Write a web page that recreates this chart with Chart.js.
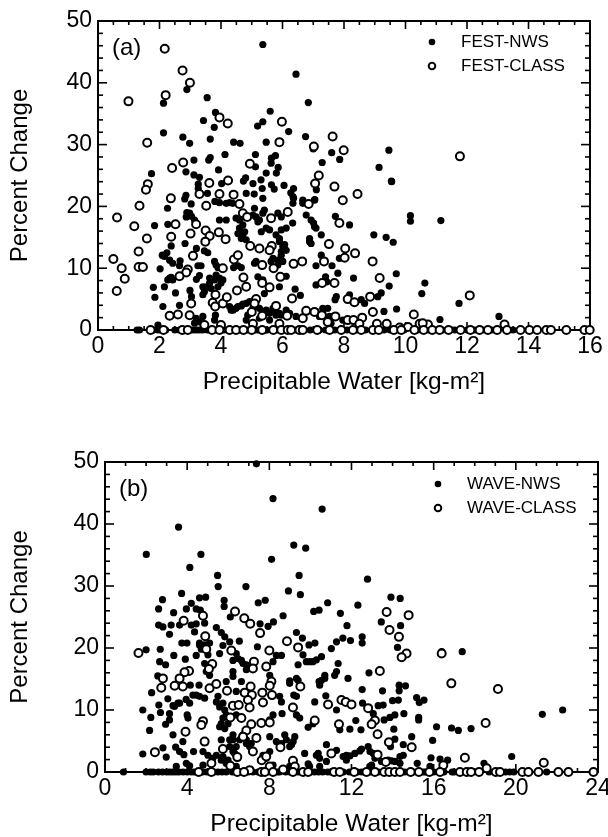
<!DOCTYPE html>
<html>
<head>
<meta charset="utf-8">
<title>Percent Change vs Precipitable Water</title>
<script src="https://cdn.jsdelivr.net/npm/chart.js@4/dist/chart.umd.min.js"></script>
<style>
    html, body { margin: 0; padding: 0; background: #fff; overflow: hidden; width: 608px; height: 837px; }
    canvas { position: absolute; left: 0; }
</style>
</head>
<body>
<canvas id="panelA" width="608" height="400" style="top:0"></canvas>
<canvas id="panelB" width="630" height="424" style="top:415px"></canvas>
<script>
//Values, [precipitable water, percent change].
const festNws = [[5.36,46.2],[6.44,41.4],[6.84,36.8],[3.55,37.6],[2.89,38.9],[2.13,36.7],[5.6,35.4],[3.82,35.2],[3.43,33.9],[5.36,33.7],[5.19,33],[3.78,32.8],[6.2,32.1],[2.13,31.9],[2.76,31.2],[2.98,30.2],[3.65,30.9],[4.41,30.4],[4.62,30.2],[5.47,30.4],[6.75,31.3],[7,29.3],[7.6,28.7],[7.86,27.6],[7.29,27.1],[4.13,28.4],[5.12,28.4],[5.77,28.2],[5.64,27.8],[5.63,27],[3.65,27.9],[3.6,27.5],[3.12,27.5],[5.12,26.4],[5.86,26.3],[3.92,25.9],[1.74,25.3],[2.86,25.6],[3.12,25.1],[3.3,24.7],[5.47,25.4],[5.8,25.4],[4.8,24.6],[4.73,24.1],[5.3,24.3],[5.04,23.7],[4.02,23.7],[3.26,23.6],[5.64,23.5],[6.05,23.4],[6.36,22.9],[5.73,22.8],[5.34,22.9],[6.27,22.2],[7.1,22.7],[4.82,22.1],[5.08,22],[3.56,22.1],[2.86,21.8],[3.26,22.9],[5.36,21.3],[6.36,21.3],[6.66,21],[7.05,21.1],[2.82,21.2],
    [9.46,29.1],[9.14,26.3],[9.54,24.1],
    [2.26,19.7],[3.03,20.4],[2.89,19],[3.04,18.4],[3.14,17.8],[1.84,16.9],[2.27,17.1],[2.83,14],[2.38,13.6],[2.24,12.5],[2.09,12.1],[2.33,11.3],[2.67,11.2],[2.65,10.4],[2.02,9.9],[2.38,8.5],[2.27,8.1],[2.16,7],[1.8,6.9],[1.85,5.3],[2.52,6],[2.11,3.8],[2.65,4],[2.99,6.4],[3.04,5.4],[3.41,5.7],[3.46,6.2],[3.2,8.2],[3.3,8.8],[3.25,10.4],[3.35,10.4],[3.2,13.2],[3.46,12.8],[3.57,12.5],[3.79,11.1],[3.84,10.5],[3.9,10.1],[4.41,10.1],[4.55,10.4],[4.66,10.1],[3.63,8.4],[3.95,8.4],[3.52,7],[3.68,6.7],[3.9,7],[4.06,8.1],[3.8,20.8],[4.17,20.5],[4.38,20.5],[3.95,17.8],[4.17,17.8],[4.49,18.1],[4.71,18.3],[4.71,17],[4.77,15.9],[4.66,14.8],[4.82,14.6],[5.09,19.7],[5.25,17.8],[5.14,18.3],[5.41,19.4],[5.85,18.9],[5.96,18.3],[6.33,17.3],[5.31,15.9],[5.47,16.5],[5.58,16.2],[5.79,15.4],[5.96,16.2],[6.12,16.5],[5.9,14.3],[6.07,13.8],[6.12,12.9],[5.96,12.1],[5.69,11.6],[6.01,11.1],[5.85,10.5],[5.63,11.1],[5.14,11.1],[5.09,10.8],[5.2,8.6],[5.36,8.1],[5.9,7],[6.12,8.7],[5.41,5.9],[6.41,6.6],[6.58,5.6],[7.09,7.3],[7.4,8.6],[7.44,7.8],[7.09,10.4],[7.26,12.1],[7.8,9.2],[7.61,10.4],[7.85,11.6],[6.88,14.3],[6.93,14],[7.26,15.4],[7.01,17.3],[7.09,16.5],[6.77,18.6],[6.66,20.5],[7.04,21],[6.34,20.5],[6.34,21.6],[7.72,18.4],[7.75,5.4],[7.71,4.9],[7.47,3.5],[7.31,2.7],[7.53,2.2],[6.12,3.2],[5.69,3.5],[5.9,2.7],[5.47,3.2],[5.25,3.5],[4.93,4.6],[4.71,4.2],[4.55,3.8],[4.39,3.2],[4.28,3.8],[4.87,2.4],[3.41,2.2],[3.82,2.4],[3.14,1.1],[1.95,0.8],
    [9.55,24],[10.16,18.5],[10.16,17.6],[11.15,17.7],[8.97,15.4],[9.37,15],[9.6,14.2],[8.31,8.4],[9.7,9.1],[9.47,7.1],[9.21,6],[9.1,5.4],[10.63,7.6],[10.53,5.9],[11.74,4.3],[8.56,4.9],[8.67,4.3],[8.18,5.7],[8.18,17],[9.3,3],[9.71,3.4],[11.12,1.7],[13.04,2.2],
    [3.95,20.6],[4.28,20.6],[4.6,17.8],[4.6,16.5],[4.71,15.4],[4.55,15.6],[5.04,18.6],[5.2,17.5],[5.36,18.9],[5.9,14.8],[6.01,13.5],[5.96,12.7],[5.85,11.3],[2.16,11.9],[2.43,10.8],[2.33,8.4],[2.43,8.1],[3.41,7],[3.63,7.6],[3.79,8.1],[4,7.6],[3.84,8.9],[4.33,3.2],[4.49,3.5],[4.66,3.9],[4.82,4.3],[5.04,3.5],[5.36,3],[5.58,2.7],[5.74,3],[5.96,2.4],[6.23,2.7],[6.44,2.2],[7.09,3],[7.31,3.5],[7.2,2.2],[2.98,18.9],[2.87,18.3],[6.93,17.8],[7.04,16.7],[6.88,14.8],[3.19,1.9],[3.3,1.3],[3.79,1.6],[4.82,1.6],[5.25,1.9],[5.58,1.6],[5.79,2.4],[7.58,1.1],[7.96,1.6]];
const festNwsZero = [1.27,1.35,1.8,1.95,2.05,2.2,2.5,2.65,2.8,3,3.1,3.2,3.3,3.4,3.55,3.85,4.1,4.6,4.85,5.1,5.2,5.45,5.5,5.8,6.05,6.45,6.9,7.2,7.4,7.7,8.1,8.4,8.7,9,9.3,9.5,9.95,10.4,10.75,11.2,11.6,12,12.25,12.5,12.8,13.5];
const festClass = [[2.17,45.5],[2.75,42],[2.99,40],[2.2,38],[0.99,37],[3.95,34.4],[4.22,33.4],[5.98,33.7],[1.6,30.3],[5.9,30.4],[7.63,31.3],[7.02,29.7],[7.99,29.1],[2.77,27.1],[2.41,26.2],[4.94,26.9],[7.18,25],[3.62,23.8],[4.23,24.2],[7.06,23.7],[7.69,23.2],[1.62,23.6],[1.56,22.7],[2.37,21.3],[3.3,22],[3.95,22],[4.41,21.9],[7.96,21],[11.77,28.1],[8.44,22],
    [1.35,20.1],[0.62,18.2],[1.18,16.8],[1.59,14.8],[2.52,17.1],[2.38,15.1],[1.32,12.7],[0.5,11.5],[0.77,10],[1.32,10.2],[1.46,10.2],[0.87,8.3],[0.61,6.3],[3.09,12],[2.92,9.8],[2.87,9.3],[2.65,8.7],[2.98,2.4],[2.6,2.5],[2.33,2.3],[3.03,4.3],[3.19,17.1],[3.01,15.6],[3.5,16.1],[3.63,15.2],[3.49,14.3],[3.52,20.1],[4.6,20.4],[4.71,18.9],[3.93,15.8],[4.15,14.7],[4.06,10],[4.42,11.4],[4.55,12.1],[4.73,8.5],[4.82,7],[4.52,6.4],[3.82,5.7],[3.73,4.4],[3.81,3.8],[4.06,4.3],[4.19,5.3],[4.95,13.6],[5.25,13.2],[5.34,10.5],[5.65,13.6],[5.58,12.9],[5.71,10],[5.63,18.1],[4.85,18.3],[6.17,19.1],[6.85,20.4],[5.14,5],[5.09,4.3],[5,2.9],[5.34,2.3],[5.93,8.6],[5.34,7.6],[5.58,6.9],[6.36,10.7],[6.64,11.1],[6.31,5.1],[5.79,3.9],[6.15,2.3],[6.66,1.9],[6.77,3.1],[7.04,2.9],[7.28,2.4],[7.85,17.3],[7.51,13.9],[8.04,13.2],[8.02,11.7],[7.35,11.1],[7.29,7.6],[7.69,7.6],[8.12,5],[8.12,1.6],[7.72,2.2],[7.47,1.3],[5.04,1],[5.9,1],[3.46,0.8],[4,0.8],
    [8.36,12.4],[8.93,11.1],[9.16,8.4],[8.85,5.4],[8.34,4.5],[12.09,5.6],[8.94,2.9],[10.27,2.5],[8.59,2],[8.31,1.6],[9.39,1],[9.07,1],[8.5,1],[10.46,1],[10.73,0.9],[13.22,0.9],[10.08,0.5],[9.81,0.4],[10.56,1.1]];
const festClassZero = [1.71,2.13,2.74,2.92,3.71,3.95,4.28,4.49,4.73,5,5.34,5.7,5.96,6.17,6.28,6.55,6.66,7.13,7.53,7.91,8.29,8.56,8.94,9.13,9.62,9.86,10.29,10.59,10.87,11.11,11.4,11.79,12.11,12.41,12.68,12.98,13.3,13.74,14.03,14.28,14.58,14.73,15.23,15.82,15.99];

const waveNws = [[7.37,49.7],[8.18,44.1],[10.57,42.4],[3.58,39.5],[2.01,35.1],[4.67,35.1],[9.19,36.6],[9.77,36.1],[8.11,34.3],[4.13,33],[5.48,31.7],[9.45,31.7],[5.51,29.9],[6.86,29.9],[8.93,29.2],[3.73,28.8],[9.51,28.6],[2.8,27.8],[4.6,28.1],[4.9,28.2],[5.8,27.7],[5.8,26.7],[7.8,27.7],[7.46,27.3],[10.84,27.3],[4.2,27.2],[3.96,26.3],[2.61,26.3],[4.44,26.3],[4.64,26.1],[3.34,25.7],[10.16,25.9],[10.42,26.1],[11.46,25.6],[8.67,25.2],[6.1,25],[11.78,23.6],[2.61,23.7],[2.82,23.4],[3.22,23.7],[3.63,23.7],[4.2,23.7],[4.44,23.9],[4.85,24],[7.55,23.9],[8.2,24.2],[7.94,23.5],[3.14,22.2],[4.36,22.6],[5.42,23.3],[5.66,22.5],[5.83,21.8],[6.07,21],[6.54,21.1],[9.32,22.5],[9.61,21.6],[3.74,20.8],[3.99,20.8],[4.6,20.8],[5.09,20.8],[5.74,20.4],[7.42,20.2],[9.93,20.5],[10.22,20.8],[11.02,19.9],[11.27,21],[11.58,21.6],[2,19.7],[2.69,19.8],[4.69,19.8],
    [12.78,31.1],[13.92,28.2],[14.37,28],[12.31,26.9],[13.45,24.2],[14.39,23.6],[12.52,21.8],[12.52,20.8],[11.95,21.2],[14.24,20.1],[16.39,19.4],[17.39,19.4],
    [3.35,18.8],[3.91,18.2],[4.44,18.8],[5.58,19.1],[6.47,18.3],[6.72,17.5],[6.88,16.5],[8.34,18.8],[8.59,18.8],[8.18,17.8],[9.4,17.3],[9.64,18.9],[9.8,17.8],[10.12,17.8],[10.54,18.6],[11.35,17.5],[11.27,16.2],[11.18,15.6],[11.83,15.1],[10.7,15.6],[10.54,14.8],[10.42,14.6],[9.4,14.8],[8.99,14.7],[2.66,17.8],[2.95,17.3],[2.57,15.5],[4.15,14],[4.58,14],[2.27,12.8],[3.06,11.8],[2.62,10.8],[3.31,10.7],[3.55,11.1],[3.95,11.7],[4.12,11.1],[4.44,12.4],[4.85,11.9],[1.84,10],[2.23,8.8],[2.7,9.6],[3.14,9.4],[4,9.2],[4.04,8.7],[3.14,8.4],[2.95,7.7],[2.17,6.7],[3.31,6],[3.79,4.9],[1.84,2.9],[2.82,3.9],[2.98,2.4],[3.44,4],[3.63,3.3],[3.84,2.8],[4.31,3.3],[3.96,1.4],[4.77,3.3],[5.01,2.7],[5.42,11.3],[5.58,10.5],[5.83,10],[5.74,8.7],[5.58,7.3],[5.83,7],[6.23,16.2],[6.23,15.4],[5.9,14.6],[6.64,14.6],[6.39,13],[8.02,15.6],[8.5,12.2],[8.59,11.3],[9.32,12.2],[9.19,12.4],[10.21,11.3],[10.75,12.3],[11.27,10],[9.32,9.2],[9.48,8.7],[8.62,9.4],[8.18,9.2],[8.02,8.4],[9.89,7.2],[10.13,7.8],[11.43,6.8],[6.23,6],[6.72,6],[6.07,5.2],[6.07,4.1],[6.31,3],[6.88,4.6],[7.04,4.1],[8.02,5.7],[8.34,4.9],[8.75,6],[9.24,5.7],[9.08,4.4],[8.02,3.3],[9.72,3],[10.78,4.4],[10.38,3],[10.45,2.2],[9.89,1.3],[11.75,1.9],[5.66,1.9],[5.99,1.9],[7.85,2.2],[5.66,5.2],
    [12.85,16],[14.32,14],[14.63,13.9],[14.32,13.1],[12.52,13.3],[13.51,13.1],[12.54,11.1],[13.3,10.7],[13.54,10.8],[14,11.5],[14.28,11.6],[15.17,12],[15.53,11.6],[15.3,11.2],[13.06,9.4],[14.55,9.4],[12.21,8.3],[14.11,9.2],[13.87,8.8],[13.59,8.4],[15.27,8.8],[15.27,8.4],[21.29,9.3],[22.28,10],[16.14,7.3],[16.87,7.1],[17.2,6.7],[17.82,7],[12.46,6.8],[14.06,6.9],[11.92,6.9],[14.93,5.7],[14.11,5.3],[15.95,5.1],[14.52,4.4],[13.9,4.1],[12.81,4.1],[12.49,3.7],[12.16,3],[11.92,2.6],[13.06,3],[14.52,2.7],[14.36,2.5],[15.87,2.3],[16.31,2.1],[16.68,1.9],[19.8,2.5],[18.45,1.4],[15.2,1.4],[12.98,1.1],[13.95,1.8],
    [4.6,20.5],[4.85,20.5],[5.01,18.9],[4.85,17.5],[4.93,16.2],[5.09,15.6],[6.23,18],[6.39,19.1],[6.64,18],[6.88,17.3],[9.97,17.8],[10.29,18.1],[5.5,12.2],[5.74,11.1],[5.9,9.2],[5.66,7.8],[5.99,7.8],[6.39,9.2],[6.23,5.2],[6.55,5.2],[6.88,5.2],[7.12,4.6],[6.39,4.1],[6.23,3.3],[8.99,14.3],[9.32,15.1],[10.7,15.1],[10.45,14],[8.59,4.6],[8.83,5.2],[8.99,4.1],[9.16,4.9],[5.42,2.7],[5.25,2.2],[5.74,2.5],[5.9,1.4],[7.69,2.7],[10.29,2.7],[10.78,1.7],[9.96,0.9],[10.45,0.9],[8.99,0.9],[8.18,1.1],[6.39,0.9],[4.12,1],[3.47,0.9],[4.77,1.1],[4.28,12.4],[4.6,12.2],[3.63,11.1],[3.39,10.6],[11.27,3.5],[11.59,2.5],[11.75,2.7],[12.41,3.4],[12.9,3.3],[13.14,2.2],[13.46,1.7],[13.79,1.9],[14.11,1.7],[14.36,1.4],[12.89,0.9],[15.82,0.9]];
const waveNwsZero = [0.9,2,2.2,2.35,2.6,2.8,3,3.15,3.3,3.45,3.6,3.8,4,4.2,4.35,4.5,4.75,4.95,5.3,5.5,5.7,5.9,6.2,6.6,6.95,7.2,7.45,7.9,8.4,8.5,8.8,9,9.4,9.55,10,10.2,10.4,10.6,10.85,11,11.3,11.6,11.9,12.3,12.5,12.9,13.3,13.7,14,14.2,14.6,15,15.5,15.6,16,16.5,16.9,17,18.7,19.5,19.7,19.9,21.5];
const waveClass = [[4.77,25.2],[3.83,24.4],[6.33,25.9],[6.78,24.8],[7.07,23.9],[7.55,22.4],[4.88,21.9],[8.86,21.1],[9.4,20.1],[4.93,19.8],[6.15,19.6],[8,19.6],
    [13.71,25.8],[14.78,25.3],[13.85,22.9],[14.31,21.8],[14.68,19.1],[14.44,18.5],[16.39,19.1],
    [1.63,19.2],[7.25,17.8],[7.2,16.7],[7.85,17],[5.22,17.4],[5.06,16.6],[4.09,16.3],[3.87,16.1],[3.63,15.1],[2.82,15.1],[2.74,13.6],[3.39,13.9],[3.79,13.8],[5.09,13.5],[5.42,14.2],[5.94,13.1],[7.09,13.8],[6.8,12.8],[7.15,12.4],[6.96,11.6],[7.66,12.8],[7.69,11.2],[8.13,12.4],[8.1,14.6],[8.02,13.9],[9.51,13.8],[11.51,11.6],[11.72,11.3],[10.86,10.9],[9.15,10.4],[6.23,10.7],[6.51,10.8],[7.04,10.4],[6.1,8.8],[6.64,8.7],[4.77,8.2],[4.69,7.6],[3.92,6.5],[4.85,4.9],[5.74,3.7],[7.2,3.3],[7.12,7.7],[6.88,6.7],[6.72,5.7],[7.37,5.5],[7.61,7.9],[8.02,8],[8.54,4],[10.21,8.3],[11.39,7.7],[2.43,3.2],[11.02,3],[6.44,2.4],[7.63,1.9],[9.15,1.8],[5.18,1.4],[6.1,1],[7.85,2.5],[8.02,0.9],[8.67,0.4],[9.24,0.9],[7.04,0.3],
    [13.38,16.3],[16.86,14.3],[19.13,13.4],[12,10.9],[12.81,10.3],[13.14,8.3],[12.98,7.7],[13.27,6.1],[18.53,7.9],[13.82,4.8],[14.93,4],[13.27,2.8],[17.52,2.3],[13.67,1.6],[16.47,1.1],[21.36,1.5],[18.58,0.6]];
const waveClassZero = [4.56,5.18,6.44,6.77,7.61,7.78,8.18,9.15,9.64,9.89,11.15,11.43,12.13,12.73,13.14,13.59,13.84,14.11,14.36,14.88,15.28,15.79,16.31,17.28,17.61,17.82,18.21,19.02,19.23,20.32,20.61,21.1,22.07,22.56,23.78];

//Axis ticks, major ones carry the labels.
const yMajor = [0, 10, 20, 30, 40, 50];
const yMinor = [2, 4, 6, 8, 12, 14, 16, 18, 22, 24, 26, 28, 32, 34, 36, 38, 42, 44, 46, 48];
const xMajorA = [0, 2, 4, 6, 8, 10, 12, 14, 16];
const xMinorA = [0.5, 1, 1.5, 2.5, 3, 3.5, 4.5, 5, 5.5, 6.5, 7, 7.5, 8.5, 9, 9.5, 10.5, 11, 11.5, 12.5, 13, 13.5, 14.5, 15, 15.5];
const xMajorB = [0, 4, 8, 12, 16, 20, 24];
const xMinorB = [1, 2, 3, 5, 6, 7, 9, 10, 11, 13, 14, 15, 17, 18, 19, 21, 22, 23];

const FONT = '"Liberation Sans", Arial, sans-serif';

/**
 * Turns the pair list and the list of points lying on zero into chart points.
 */
function toPoints(pairs, zeros) {
    return pairs.map(function (p) {
        return {x: p[0], y: p[1]};
    }).concat(zeros.map(function (x) {
        return {x: x, y: 0};
    }));
}

//The frame and the inward ticks, drawn under the points.
const framePlugin = {
    id: 'frame',
    beforeDatasetsDraw: function (chart, args, opts) {
        const ctx = chart.ctx, a = chart.chartArea, sx = chart.scales.x, sy = chart.scales.y;
        ctx.save();
        ctx.strokeStyle = '#000';
        ctx.lineWidth = 2;
        ctx.strokeRect(a.left, a.top, a.right - a.left, a.bottom - a.top);
        function tick(x0, y0, x1, y1) {
            ctx.beginPath();
            ctx.moveTo(x0, y0);
            ctx.lineTo(x1, y1);
            ctx.stroke();
        }
        function xTicks(values, len) {
            values.forEach(function (v) {
                const px = sx.getPixelForValue(v);
                tick(px, a.bottom, px, a.bottom - len);
                tick(px, a.top, px, a.top + len);
            });
        }
        function yTicks(values, len) {
            values.forEach(function (v) {
                const py = sy.getPixelForValue(v);
                tick(a.left, py, a.left + len, py);
                tick(a.right, py, a.right - len, py);
            });
        }
        ctx.lineWidth = 1.6;
        xTicks(opts.xMajor, 8);
        xTicks(opts.xMinor, 4);
        yTicks(yMajor, 9);
        yTicks(yMinor, 5);
        ctx.restore();
    }
};

//Panel letter and the legend inside the top right corner.
const notePlugin = {
    id: 'note',
    afterDraw: function (chart, args, opts) {
        const ctx = chart.ctx, a = chart.chartArea;
        ctx.save();
        ctx.fillStyle = '#000';
        ctx.textBaseline = 'middle';
        ctx.textAlign = 'left';
        ctx.font = '24px ' + FONT;
        ctx.fillText(opts.letter, a.left + 14, a.top + 27);
        ctx.font = '17px ' + FONT;
        chart.data.datasets.forEach(function (ds, i) {
            const y = a.top + opts.legendTop + i * 24;
            ctx.beginPath();
            ctx.arc(a.left + opts.legendX, y, 3.3, 0, Math.PI * 2);
            ctx.fillStyle = ds.pointBackgroundColor;
            ctx.fill();
            if (ds.pointBorderWidth) {
                ctx.lineWidth = ds.pointBorderWidth;
                ctx.strokeStyle = '#000';
                ctx.stroke();
            }
            ctx.fillStyle = '#000';
            ctx.fillText(ds.label, a.left + opts.legendX + 29, y);
        });
        ctx.restore();
    }
};

/**
 * Builds one scatter panel.
 */
function makePanel(id, cfg) {
    return new Chart(document.getElementById(id).getContext('2d'), {
        type: 'scatter',
        data: {
            datasets: [{
                label: cfg.nwsLabel,
                data: cfg.nws,
                order: 2,
                clip: false,
                pointRadius: 3.6,
                pointBorderWidth: 0,
                pointBackgroundColor: '#000',
                pointBorderColor: '#000'
            }, {
                label: cfg.classLabel,
                data: cfg.classic,
                order: 1,
                clip: false,
                pointRadius: 4,
                pointBorderWidth: 2,
                pointBackgroundColor: '#fff',
                pointBorderColor: '#000'
            }]
        },
        options: {
            responsive: false,
            animation: false,
            devicePixelRatio: 1,
            layout: {padding: cfg.padding},
            plugins: {
                legend: {display: false},
                tooltip: {enabled: false},
                frame: {xMajor: cfg.xMajor, xMinor: cfg.xMinor},
                note: {letter: cfg.letter, legendX: cfg.legendX, legendTop: cfg.legendTop}
            },
            scales: {
                x: {
                    type: 'linear',
                    min: 0,
                    max: cfg.xMax,
                    grid: {display: false, drawTicks: false},
                    border: {display: false},
                    ticks: {stepSize: cfg.xStep, color: '#000', padding: 3, maxRotation: 0, font: {family: FONT, size: 23}},
                    title: {display: true, text: 'Precipitable Water [kg-m\u00B2]', color: '#000', padding: {top: 0, bottom: cfg.titleBottom}, font: {family: FONT, size: 24.5}},
                    afterFit: function (scale) { scale.height = cfg.axisHeight; }
                },
                y: {
                    min: 0,
                    max: 50,
                    grid: {display: false, drawTicks: false},
                    border: {display: false},
                    ticks: {stepSize: 10, color: '#000', padding: 6, font: {family: FONT, size: 23}},
                    title: {display: true, text: 'Percent Change', color: '#000', padding: {top: 0, bottom: 0}, font: {family: FONT, size: 24}},
                    afterFit: function (scale) { scale.width = cfg.axisWidth; }
                }
            }
        },
        plugins: [framePlugin, notePlugin]
    });
}

window.onload = function () {
    makePanel('panelA', {
        letter: '(a)', nwsLabel: 'FEST-NWS', classLabel: 'FEST-CLASS',
        nws: toPoints(festNws, festNwsZero), classic: toPoints(festClass, festClassZero),
        xMax: 16, xStep: 2, xMajor: xMajorA, xMinor: xMinorA,
        padding: {left: 6, top: 21, right: 18, bottom: 0},
        axisWidth: 92, axisHeight: 70, titleBottom: 3, legendX: 334, legendTop: 21
    });
    makePanel('panelB', {
        letter: '(b)', nwsLabel: 'WAVE-NWS', classLabel: 'WAVE-CLASS',
        nws: toPoints(waveNws, waveNwsZero), classic: toPoints(waveClass, waveClassZero),
        xMax: 24, xStep: 4, xMajor: xMajorB, xMinor: xMinorB,
        padding: {left: 6, top: 47, right: 32, bottom: 0},
        axisWidth: 99, axisHeight: 67, titleBottom: 0, legendX: 333, legendTop: 22
    });
};
</script>
</body>
</html>
